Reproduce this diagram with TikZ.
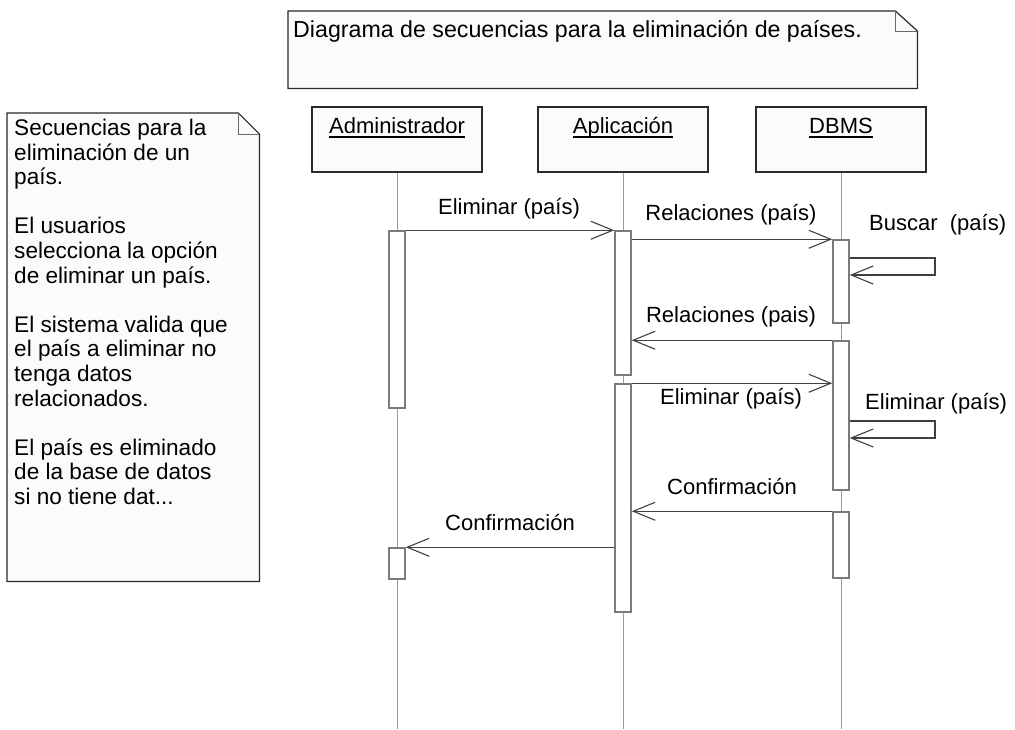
\documentclass[tikz,border=0pt]{standalone}
\usepackage{fontspec}
\setmainfont{Liberation Sans}
\usetikzlibrary{arrows.meta}
\definecolor{boxfill}{HTML}{FBFBFB}
\definecolor{edgec}{HTML}{2A2A2A}
\definecolor{actc}{HTML}{7A7A7A}
\definecolor{lifec}{HTML}{9A9A9A}
\definecolor{msgc}{HTML}{404040}
\definecolor{foldc}{HTML}{6A6A6A}
\begin{document}
\begin{tikzpicture}[x=1pt,y=-1pt,
  font=\fontsize{22}{24.6}\selectfont,
  head/.style={draw=edgec, line width=1.2pt, fill=boxfill, minimum width=170pt, minimum height=65pt, inner sep=0pt},
  act/.style={draw=actc, line width=1.5pt, fill=white, minimum width=16pt, inner sep=0pt},
  life/.style={draw=lifec, line width=0.8pt},
  msg/.style={draw=msgc, line width=1.1pt, -{Straight Barb[length=22pt,width=18pt,line width=1.1pt]}},
  lbl/.style={anchor=base, inner sep=0pt},
  notebody/.style={draw=edgec, line width=1.2pt, fill=boxfill},
  notefold/.style={draw=foldc, line width=1pt},
  ul/.style={draw=black, line width=1.3pt}
]
\useasboundingbox (0,0) rectangle (1015,729);

% top note
\node[inner sep=0pt, minimum width=629pt, minimum height=77pt, anchor=north west] (n1) at (288,11) {};
\draw[notebody] (n1.north west) -- ([xshift=-22pt]n1.north east) -- ([yshift=-20pt]n1.north east) -- (n1.south east) -- (n1.south west) -- cycle;
\draw[notefold] ([xshift=-22pt]n1.north east) -- ([xshift=-22pt,yshift=-20pt]n1.north east) -- ([yshift=-20pt]n1.north east);
\node[lbl, anchor=base west, font=\fontsize{23.2}{26}\selectfont] (t1) at (293,37) {Diagrama de secuencias para la eliminación de países.};

% left note
\node[inner sep=0pt, minimum width=252pt, minimum height=468pt, anchor=north west] (n2) at (7,113) {};
\draw[notebody] (n2.north west) -- ([xshift=-21pt]n2.north east) -- ([yshift=-21pt]n2.north east) -- (n2.south east) -- (n2.south west) -- cycle;
\draw[notefold] ([xshift=-21pt]n2.north east) -- ([xshift=-21pt,yshift=-21pt]n2.north east) -- ([yshift=-21pt]n2.north east);
\node[inner sep=0pt, anchor=north west, align=left, font=\fontsize{22.6}{24.6}\selectfont] (t2) at (14,119) {Secuencias para la\\eliminación de un\\país.\\[24.6pt]El usuarios\\selecciona la opción\\de eliminar un país.\\[24.6pt]El sistema valida que\\el país a eliminar no\\tenga datos\\relacionados.\\[24.6pt]El país es eliminado\\de la base de datos\\si no tiene dat...};

% lifeline heads
\node[head] (hA) at (397,139.5) {};
\node[head] (hP) at (623,139.5) {};
\node[head] (hD) at (841,139.5) {};
\node[lbl] (tA) at (397,133) {Administrador};
\node[lbl] (tP) at (623,133) {Aplicación};
\node[lbl] (tD) at (841,133) {DBMS};
\draw[ul] ([yshift=-4pt]tA.base west) -- ([yshift=-4pt]tA.base east);
\draw[ul] ([yshift=-4pt]tP.base west) -- ([yshift=-4pt]tP.base east);
\draw[ul] ([yshift=-4pt]tD.base west) -- ([yshift=-4pt]tD.base east);

% lifelines
\coordinate (eA) at (397,729);
\coordinate (eP) at (623,729);
\coordinate (eD) at (841,729);
\draw[life] (hA.south) -- (eA);
\draw[life] (hP.south) -- (eP);
\draw[life] (hD.south) -- (eD);

% activations
\node[act, minimum height=177pt] (aA1) at (397,319.5) {};
\node[act, minimum height=31pt] (aA2) at (397,563.5) {};
\node[act, minimum height=144pt] (aP1) at (623,303) {};
\node[act, minimum height=228pt] (aP2) at (623,498) {};
\node[act, minimum height=83pt] (aD1) at (841,281.5) {};
\node[act, minimum height=149pt] (aD2) at (841,415.5) {};
\node[act, minimum height=66pt] (aD3) at (841,545) {};

% messages
\draw[msg] (aA1.north east) -- (aP1.north west);
\draw[msg] (aP1.east |- aD1.north) -- (aD1.north west);
\coordinate (s1t) at (935,258);
\coordinate (s1b) at (935,275);
\draw[msg] (aD1.east |- s1t) -- (s1t) -- (s1b) -- (aD1.east |- s1b);
\draw[msg] (aD2.north west) -- (aP1.east |- aD2.north);
\draw[msg] (aP2.north east) -- (aD2.west |- aP2.north);
\coordinate (s2t) at (935,421);
\coordinate (s2b) at (935,438);
\draw[msg] (aD2.east |- s2t) -- (s2t) -- (s2b) -- (aD2.east |- s2b);
\draw[msg] (aD3.north west) -- (aP2.east |- aD3.north);
\draw[msg] (aP2.west |- aA2.north) -- (aA2.north east);

% message labels
\node[lbl] (l1) at (509,214) {Eliminar (país)};
\node[lbl] (l2) at (731,220) {Relaciones (país)};
\node[lbl, anchor=base west] (l3) at (869,230) {Buscar\ \ (país)};
\node[lbl] (l4) at (731,322) {Relaciones (pais)};
\node[lbl] (l5) at (731,404) {Eliminar (país)};
\node[lbl, anchor=base west] (l6) at (865,409) {Eliminar (país)};
\node[lbl] (l7) at (732,494) {Confirmación};
\node[lbl] (l8) at (510,530) {Confirmación};
\end{tikzpicture}
\end{document}
